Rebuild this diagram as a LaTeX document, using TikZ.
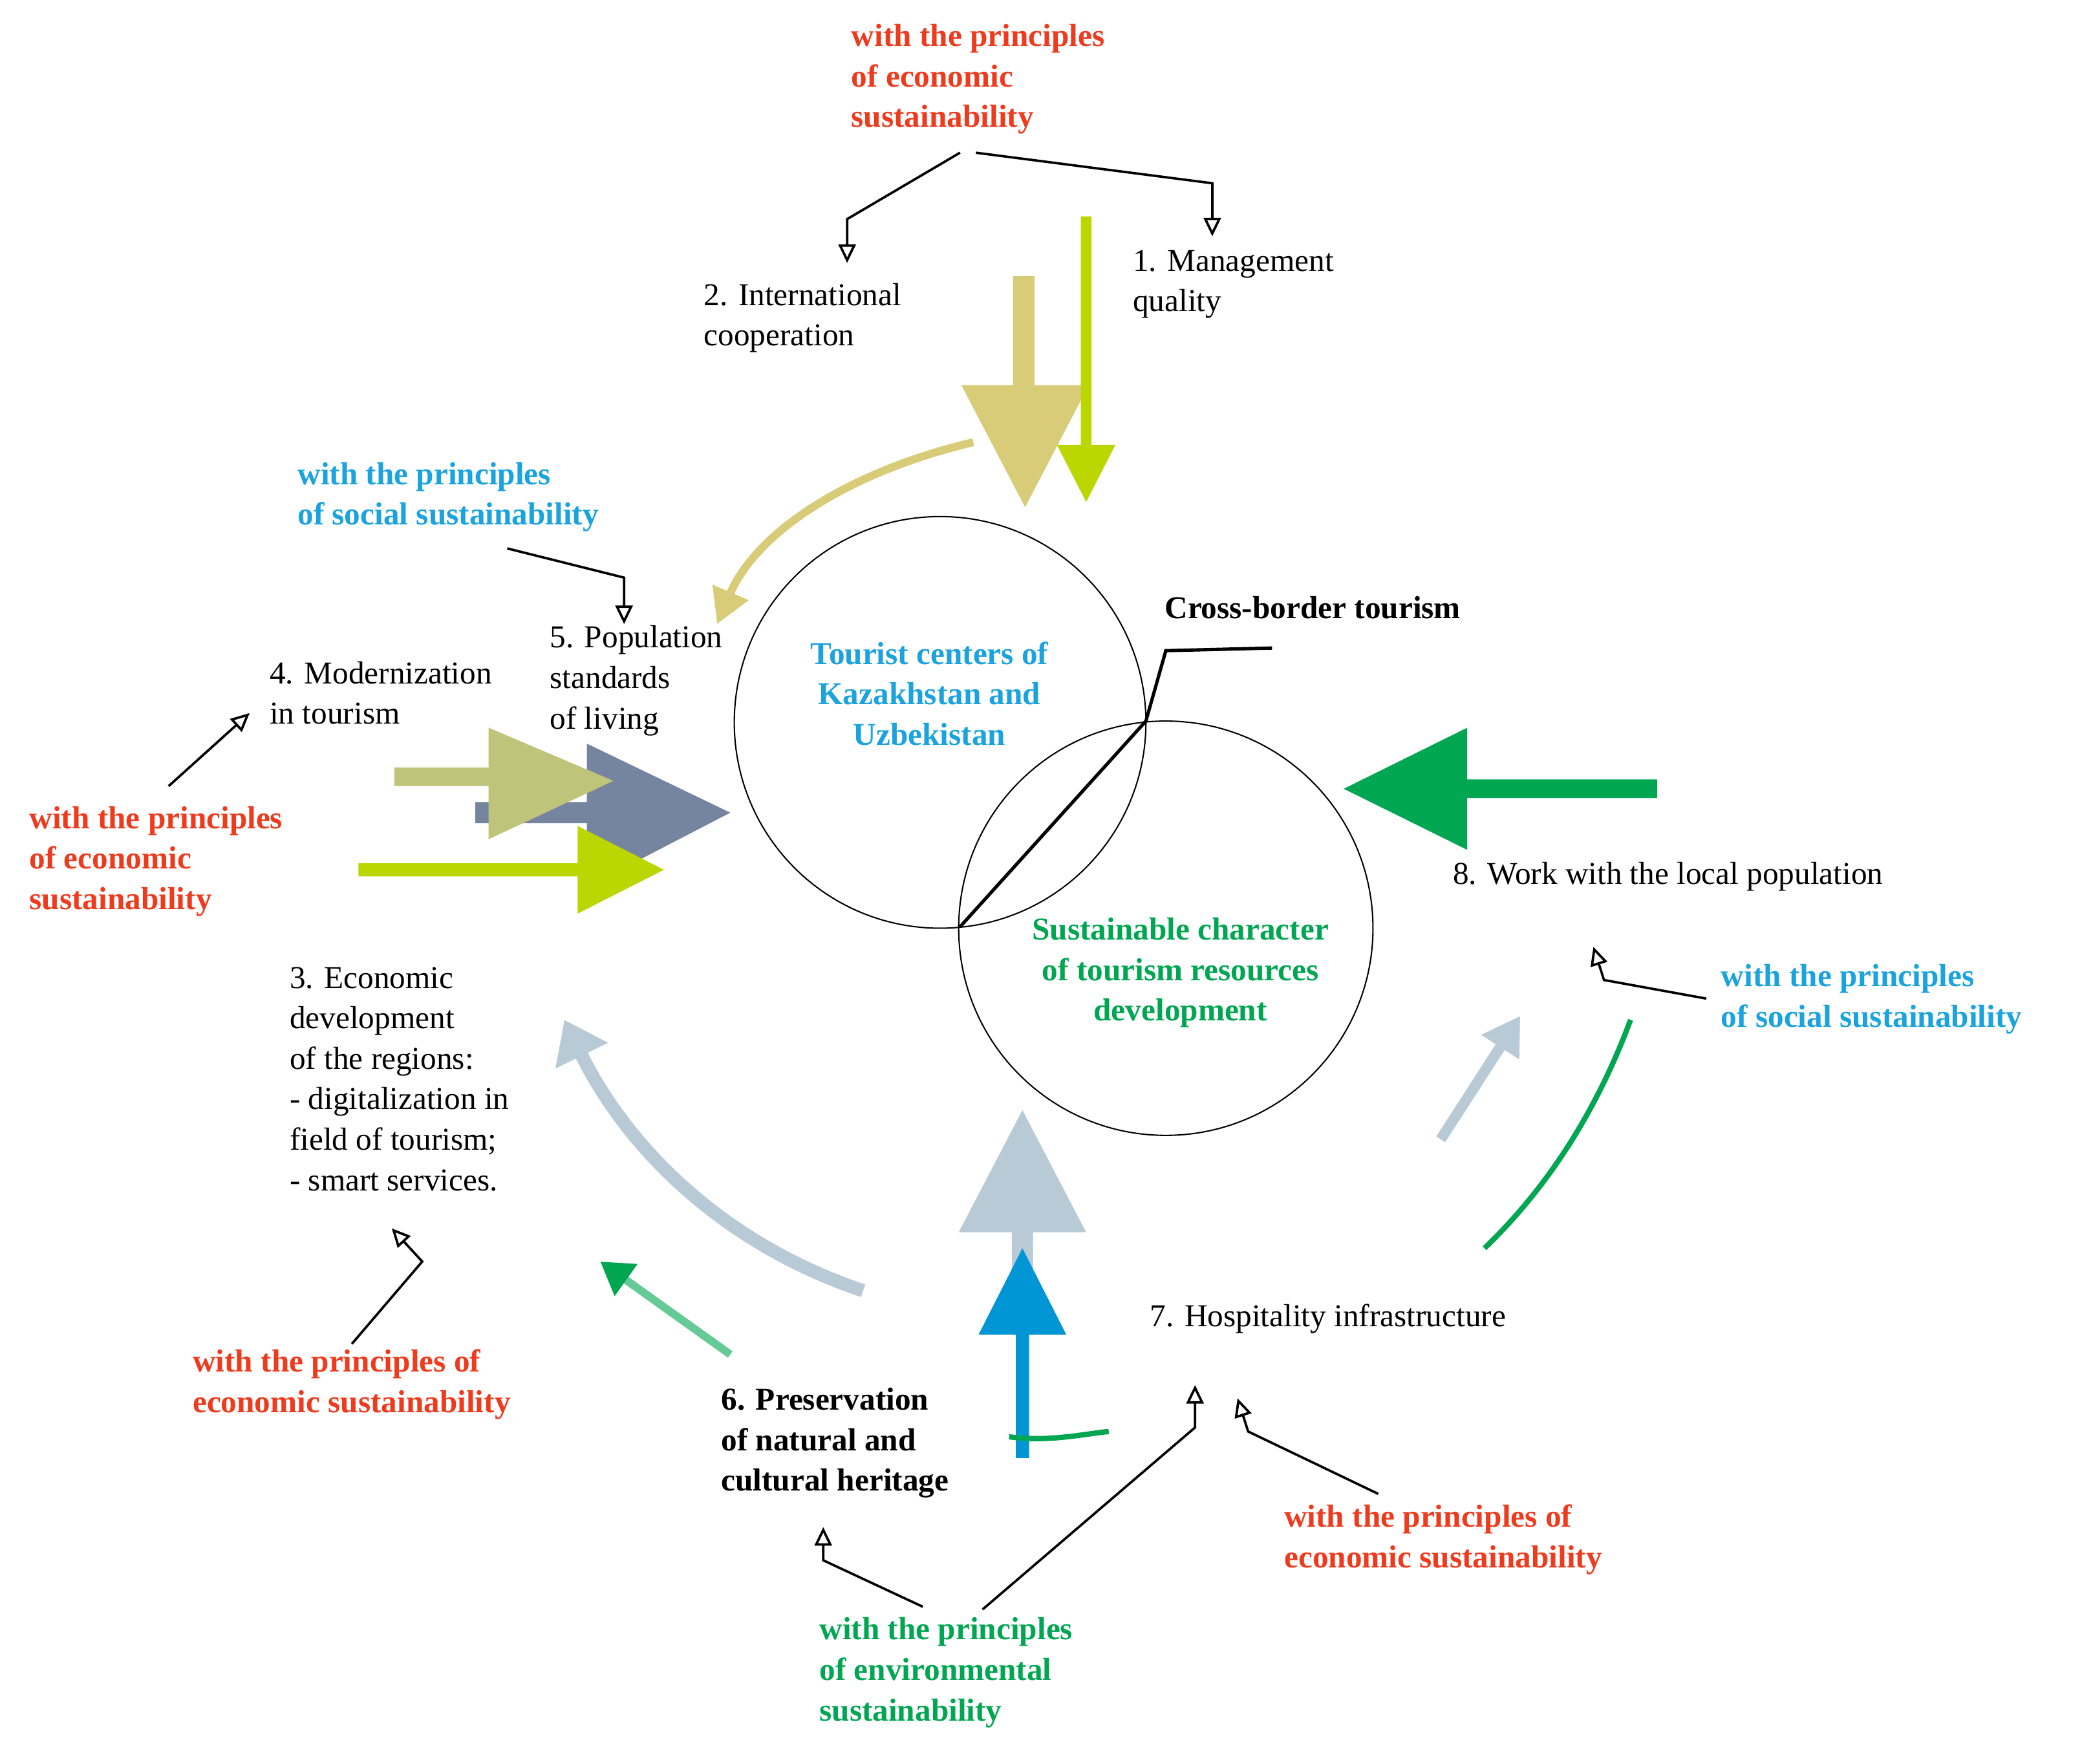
\documentclass[tikz,border=0pt]{standalone}
\usepackage{fontspec}
\setmainfont{Liberation Serif}
\usetikzlibrary{arrows.meta}
\definecolor{cred}{HTML}{EE3B1E}
\definecolor{cblue}{HTML}{1BA3DE}
\definecolor{cgreen}{HTML}{00A651}
\definecolor{tan}{HTML}{D8CC78}
\definecolor{lime}{HTML}{BBD600}
\definecolor{olive}{HTML}{C0C47A}
\definecolor{slate}{HTML}{7585A0}
\definecolor{lgb}{HTML}{B8CAD6}
\definecolor{dblue}{HTML}{0096D6}
\begin{document}
\begin{tikzpicture}[x=1pt,y=-1pt,
  lbl/.style={anchor=north west,inner sep=0pt,align=left,font=\fontsize{24}{30.5}\selectfont},
  bl/.style={lbl,font=\fontsize{24}{30.5}\selectfont\bfseries},
  con/.style={line width=1.8pt,-{Triangle[open,length=14pt,width=13pt]}},
  ccl/.style={line width=1pt}]
\useasboundingbox[fill=white] (0,0) rectangle (1568,1328);
% circles
\node[circle,draw,ccl,minimum size=310pt] (c1) at (708,544) {};
\node[circle,draw,ccl,minimum size=312pt] (c2) at (878,699) {};
\coordinate (x1) at (723,698); \coordinate (x2) at (863,543);
\draw[line width=2.5pt] (x1) -- (x2) -- (878,490) -- (958,488);
\node[bl] (cb) at (877,449) {Cross-border tourism};
\node[bl,anchor=north,align=center,text=cblue] (t1) at (700,483) {Tourist centers of\\Kazakhstan and\\Uzbekistan};
\node[bl,anchor=north,align=center,text=cgreen] (t2) at (889,691) {Sustainable character\\of tourism resources\\development};
% block arrows
\fill[tan] (763,208) -- (779,208) -- (779,290) -- (820,290) -- (772,382) -- (724,290) -- (763,290) -- cycle;
\fill[lime] (814,163) -- (822,163) -- (822,335) -- (840,335) -- (818,378) -- (796,335) -- (814,335) -- cycle;
\draw[tan,line width=6pt,-{Triangle[length=26pt,width=28pt]}] (733,333) .. controls (640,355) and (570,400) .. (540,470);
\fill[slate] (358,604) -- (442,604) -- (442,560) -- (550,612) -- (442,668) -- (442,620) -- (358,620) -- cycle;
\fill[olive] (297,578) -- (368,578) -- (368,548) -- (462,588) -- (368,632) -- (368,592) -- (297,592) -- cycle;
\fill[lime] (270,650) -- (435,650) -- (435,622) -- (500,655) -- (435,688) -- (435,660) -- (270,660) -- cycle;
\fill[cgreen] (1248,587) -- (1105,587) -- (1105,548) -- (1012,594) -- (1105,640) -- (1105,601) -- (1248,601) -- cycle;
\fill[lgb] (762,1000) -- (762,928) -- (722,928) -- (770,836) -- (818,928) -- (778,928) -- (778,1000) -- cycle;
\fill[dblue] (765,1098) -- (765,1005) -- (737,1005) -- (770,940) -- (803,1005) -- (775,1005) -- (775,1098) -- cycle;
\draw[lgb,line width=10pt,-{Triangle[length=30pt,width=42pt]}] (650,972) .. controls (540,935) and (470,860) .. (425,768);
\draw[lgb,line width=8pt,-{Triangle[length=28pt,width=32pt]}] (1085,858) -- (1145,765);
\draw[cgreen,line width=4pt] (1118,940) .. controls (1170,890) and (1205,830) .. (1228,768);
\draw[cgreen!60,line width=6pt,-{Triangle[length=24pt,width=28pt,fill=cgreen,color=cgreen]}] (550,1020) -- (452,950);
\draw[cgreen,line width=4pt] (760,1082) .. controls (790,1086) and (815,1080) .. (835,1078);
% connectors
\draw[con] (723,115) -- (638,165) -- (638,198);
\draw[con] (735,115) -- (913,138) -- (913,178);
\draw[con] (382,413) -- (470,435) -- (470,470);
\draw[con] (127,592) -- (188,537);
\draw[con] (265,1012) -- (318,950) -- (295,925);
\draw[con] (695,1210) -- (620,1175) -- (620,1150);
\draw[con] (740,1212) -- (900,1075) -- (900,1043);
\draw[con] (1038,1125) -- (940,1078) -- (932,1053);
\draw[con] (1285,752) -- (1208,738) -- (1200,713);
% labels
\node[bl,text=cred] (r1) at (641,18) {with the principles\\of economic\\sustainability};
\node[lbl] (n2) at (530,213) {2. International\\cooperation};
\node[lbl] (n1) at (853,188) {1. Management\\quality};
\node[bl,text=cblue] (b1) at (224,348) {with the principles\\of social sustainability};
\node[lbl] (n5) at (414,471) {5. Population\\standards\\of living};
\node[lbl] (n4) at (203,498) {4. Modernization\\in tourism};
\node[bl,text=cred] (r2) at (22,607) {with the principles\\of economic\\sustainability};
\node[lbl] (n3) at (218,728) {3. Economic\\development\\of the regions:\\- digitalization in\\field of tourism;\\- smart services.};
\node[bl,text=cred] (r3) at (145,1016) {with the principles of\\economic sustainability};
\node[bl] (n6) at (543,1045) {6. Preservation\\of natural and\\cultural heritage};
\node[lbl] (n7) at (866,982) {7. Hospitality infrastructure};
\node[bl,text=cgreen] (g1) at (617,1218) {with the principles\\of environmental\\sustainability};
\node[bl,text=cred] (r4) at (967,1133) {with the principles of\\economic sustainability};
\node[lbl] (n8) at (1094,649) {8. Work with the local population};
\node[bl,text=cblue] (b2) at (1296,726) {with the principles\\of social sustainability};
\end{tikzpicture}
\end{document}
